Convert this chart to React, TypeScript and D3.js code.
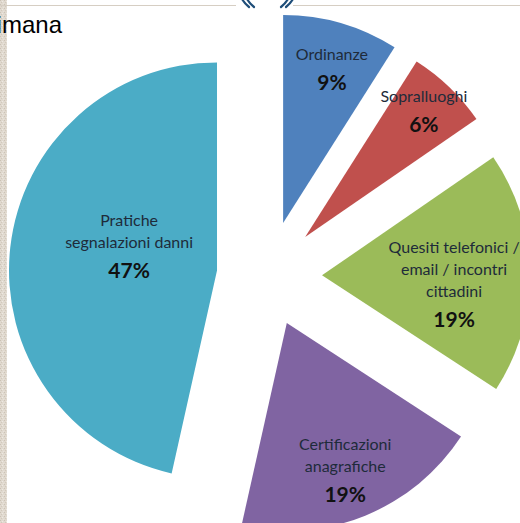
import React from 'react';
import * as d3 from 'd3';

const categories = [
  'Ordinanze',
  'Sopralluoghi',
  'Quesiti telefonici / email / incontri cittadini',
  'Certificazioni anagrafiche',
  'Pratiche segnalazioni danni',
];
// shares (labels show them rounded)
const values = [9, 6.4, 18.8, 19.3, 46.5];
const labelLines = [
  ['Ordinanze'],
  ['Sopralluoghi'],
  ['Quesiti telefonici /', 'email / incontri', 'cittadini'],
  ['Certificazioni', 'anagrafiche'],
  ['Pratiche', 'segnalazioni danni'],
];
const colors = ['#4F81BD', '#C0504D', '#9BBB59', '#8064A2', '#4BACC6'];
const explode = [55.2, 54, 54.3, 50.7, 51];
const labelAngleShift = [1.5, -0.4, 5.1, 0.6, 8.9];
const labelRadiusFrac = [0.772, 0.829, 0.637, 0.765, 0.438];

const W = 520;
const H = 523;
const CX = 267.7;
const CY = 276;
const R = 208;

export default function App() {
  const pie = d3.pie<number>().sort(null).value((d) => d);
  const arcs = pie(values);
  const arc = d3.arc<d3.PieArcDatum<number>>().innerRadius(0).outerRadius(R);
  const total = d3.sum(values);

  return (
    <svg
      width={W}
      height={H}
      viewBox={`0 0 ${W} ${H}`}
      style={{ position: 'absolute', left: 0, top: 0, background: '#fff' }}
    >
      <defs>
        <pattern id="tex" width="4" height="4" patternUnits="userSpaceOnUse">
          <rect width="4" height="4" fill="#E0D9CF" />
          <rect x="0" y="0" width="1" height="1" fill="#CBC2B5" />
          <rect x="2" y="1" width="1" height="1" fill="#EEE9E2" />
          <rect x="1" y="2" width="1" height="1" fill="#D2C9BC" />
          <rect x="3" y="3" width="1" height="1" fill="#E9E3DA" />
        </pattern>
      </defs>
      <rect width={W} height={H} fill="#fff" />
      <rect x={0} y={0} width={7} height={H} fill="url(#tex)" />
      <line x1={0} x2={236} y1={5.5} y2={5.5} stroke="#D6CEC3" strokeWidth={1} />
      <line x1={293} x2={W} y1={5.5} y2={5.5} stroke="#D6CEC3" strokeWidth={1} />
      <g stroke="#1F4E79" strokeWidth={2.2} fill="none" strokeLinecap="round">
        <path d="M242,-1 Q245,4 249,7" />
        <path d="M247,-1 Q250,4 254,7" />
        <path d="M288,-1 Q285,4 281,7" />
        <path d="M293,-1 Q290,4 286,7" />
      </g>
      <text
        x={62}
        y={33}
        textAnchor="end"
        fontFamily="'Liberation Sans', Arial, sans-serif"
        fontSize={24}
        fill="#000"
      >
        settimana
      </text>
      {arcs.map((a, i) => {
        const mid = (a.startAngle + a.endAngle) / 2;
        const ox = Math.sin(mid) * explode[i];
        const oy = -Math.cos(mid) * explode[i];
        const la = mid + (labelAngleShift[i] * Math.PI) / 180;
        const lr = labelRadiusFrac[i] * R;
        const lx = Math.sin(la) * lr;
        const ly = -Math.cos(la) * lr;
        const lines = labelLines[i];
        const span = (lines.length - 1) * 22 + 30;
        const first = ly + 5 - span / 2;
        const pct = Math.round((values[i] * 100) / total) + '%';
        return (
          <g key={categories[i]} transform={`translate(${CX + ox},${CY + oy})`}>
            <path d={arc(a) || ''} fill={colors[i]} />
            <g textAnchor="middle" fontFamily="Lato, 'Open Sans', sans-serif">
              {lines.map((t, j) => (
                <text key={j} x={lx} y={first + j * 22} fontSize={16} fill="#1E2B3A">
                  {t}
                </text>
              ))}
              <text
                x={lx}
                y={first + (lines.length - 1) * 22 + 30}
                fontSize={21}
                fontWeight="bold"
                fill="#111"
              >
                {pct}
              </text>
            </g>
          </g>
        );
      })}
    </svg>
  );
}
